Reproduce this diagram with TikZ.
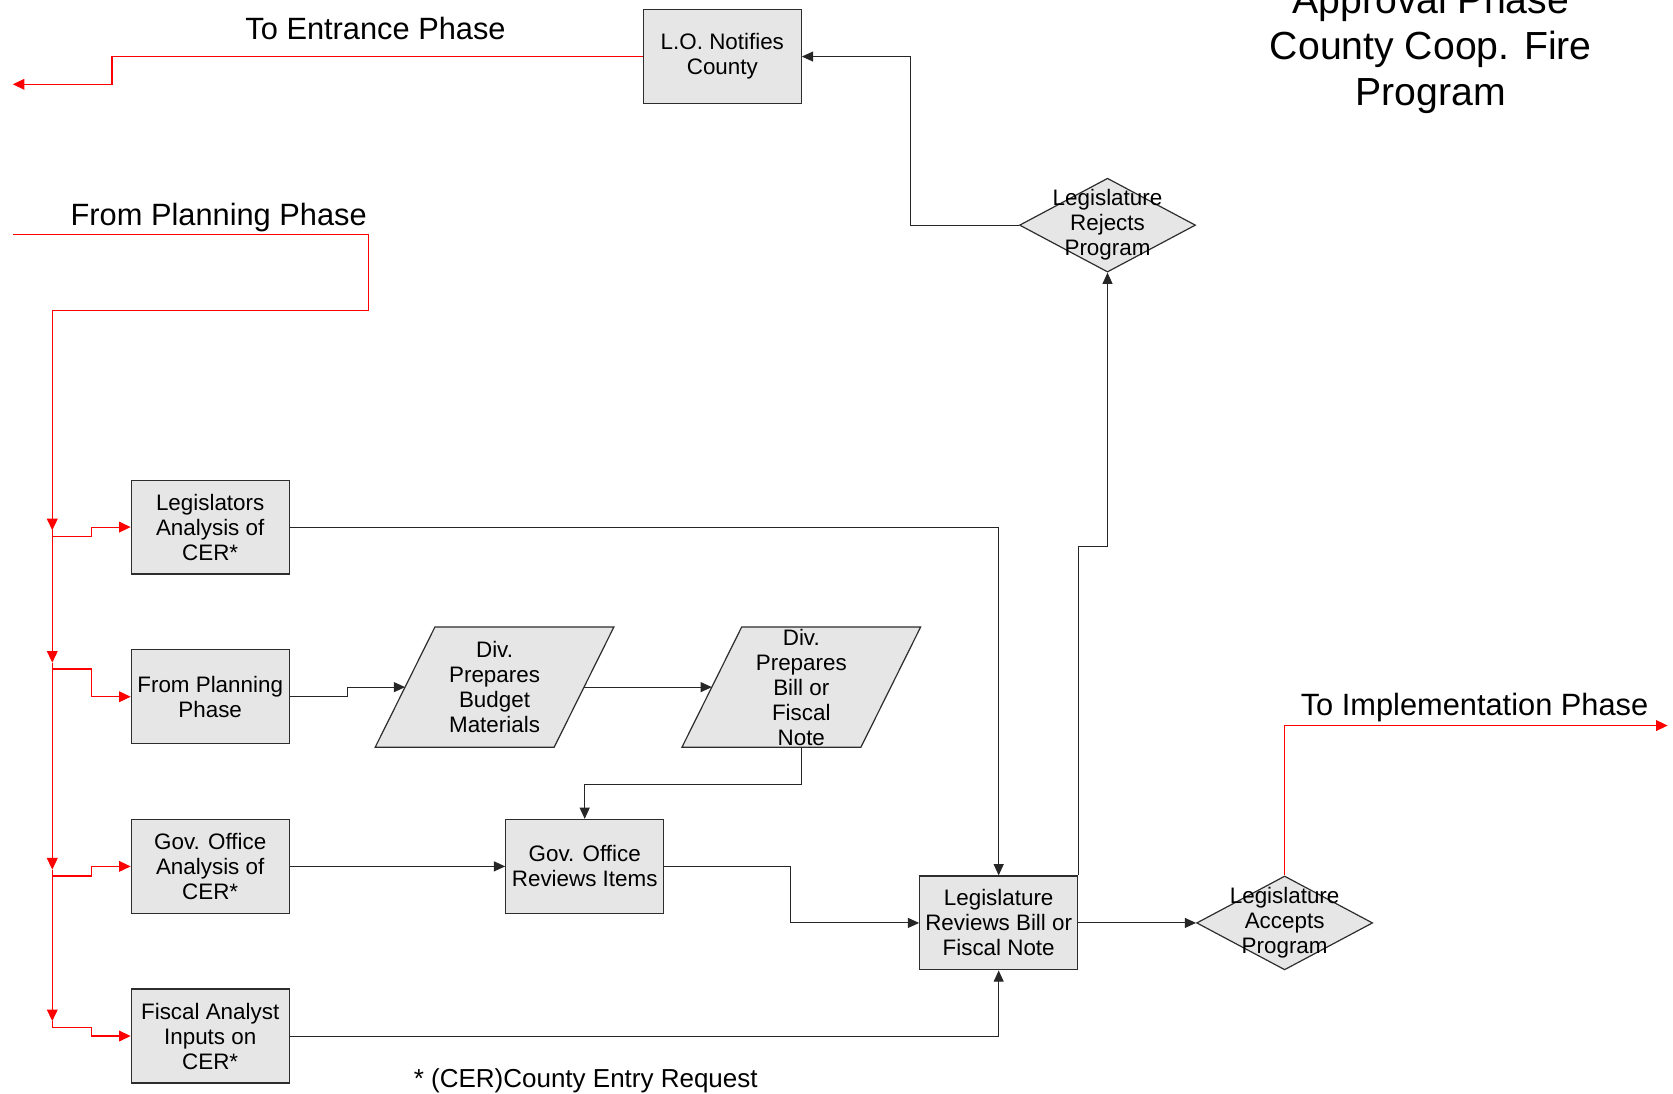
\documentclass[tikz,border=0pt]{standalone}
\usepackage{fontspec}
\setmainfont{Liberation Sans}
\usetikzlibrary{shapes.geometric,arrows.meta}
\definecolor{boxgray}{RGB}{230,230,230}
\definecolor{edgegray}{RGB}{45,45,45}
\newcommand\flowfont{\fontsize{11.2pt}{12.5pt}\selectfont}
\newcommand\phasefont{\fontsize{15.4pt}{18pt}\selectfont}
\newcommand\titlefont{\fontsize{19.6pt}{22.9pt}\selectfont}
\newcommand\notefont{\fontsize{13pt}{15pt}\selectfont}

\begin{document}
\begin{tikzpicture}[x=0.5336pt,y=-0.5336pt,
  procbox/.style={draw=edgegray, line width=0.6pt, fill=boxgray,
    minimum width=78.97pt, minimum height=46.96pt, inner sep=0pt,
    align=center, font=\flowfont},
  % body of a slanted data shape; the slanted outline is drawn round it
  iobody/.style={rectangle, minimum width=89.1pt, minimum height=59.76pt, inner sep=0pt},
  ioshape/.style={draw=edgegray, line width=0.6pt, fill=boxgray},
  decbox/.style={diamond, draw=edgegray, line width=0.6pt, fill=boxgray,
    minimum width=88.04pt, minimum height=46.96pt, inner sep=0pt},
  flowtext/.style={align=center, font=\flowfont, inner sep=0pt},
  phase/.style={align=center, font=\phasefont, inner sep=0pt},
  arr/.style={draw=black!85, line width=0.5pt, -{Triangle[length=5.6pt,width=5pt]}},
  rline/.style={draw=red, line width=0.55pt},
  rarr/.style={rline, -{Triangle[length=5.8pt,width=5.4pt]}}
]
\useasboundingbox (0,0) rectangle (1568,1025);

% title and phase labels
\node[align=center, font=\titlefont, inner sep=0pt] (title) at (1341,46)
  {Approval Phase\\County Coop. Fire\\Program};
\node[phase] (toEntrance) at (352,27) {To Entrance Phase};
\node[phase] (fromPlanning) at (205,204) {From Planning Phase};
\node[phase] (toImpl) at (1382,663) {To Implementation Phase};
\node[font=\notefont, inner sep=0pt] (note) at (549,1013) {* (CER)County Entry Request};

% process boxes
\node[procbox] (LO) at (677,53) {L.O. Notifies\\County};
\node[procbox] (LA) at (197,494) {Legislators\\Analysis of\\CER*};
\node[procbox] (FP) at (197,653) {From Planning\\Phase};
\node[procbox] (GA) at (197,812) {Gov. Office\\Analysis of\\CER*};
\node[procbox] (FA) at (197,971) {Fiscal Analyst\\Inputs on\\CER*};
\node[procbox] (GR) at (548,812) {Gov. Office\\Reviews Items};
\node[procbox] (LR) at (936,865) {Legislature\\Reviews Bill or\\Fiscal Note};

% data shapes (parallelograms leaning right)
\node[iobody] (DB) at (463.5,644) {};
\path[ioshape] ([xshift=-14.94pt]DB.south west) -- ([xshift=-14.94pt]DB.south east)
  -- ([xshift=14.94pt]DB.north east) -- ([xshift=14.94pt]DB.north west) -- cycle;
\node[flowtext] (DBt) at (DB.center) {Div.\\Prepares\\Budget\\Materials};
\node[iobody] (DN) at (751,644) {};
\path[ioshape] ([xshift=-14.94pt]DN.south west) -- ([xshift=-14.94pt]DN.south east)
  -- ([xshift=14.94pt]DN.north east) -- ([xshift=14.94pt]DN.north west) -- cycle;
\node[flowtext] (DNt) at (DN.center) {Div.\\Prepares\\Bill or\\Fiscal\\Note};

% decisions
\node[decbox] (RJ) at (1038,211) {};
\node[flowtext] (RJt) at (RJ.center) {Legislature\\Rejects\\Program};
\node[decbox] (AC) at (1204,865) {};
\node[flowtext] (ACt) at (AC.center) {Legislature\\Accepts\\Program};

% bend points
\coordinate (k1) at (326,653);
\coordinate (k2) at (751,735);
\coordinate (k3) at (741,812);
\coordinate (k4) at (853,211);
\coordinate (k5) at (105,79);
\coordinate (ent) at (12,79);
\coordinate (impl) at (1563,680);
\coordinate (jR) at (1038,512);
\coordinate (fpin) at (12,220);
\coordinate (k6) at (345,291);
\coordinate (tr0) at (49,291);
\coordinate (t1) at (49,497);
\coordinate (t2) at (49,621);
\coordinate (t3) at (49,815);
\coordinate (t4) at (49,957);
\coordinate (b1) at (86,503);
\coordinate (b2) at (86,627);
\coordinate (b3) at (86,821);
\coordinate (b4) at (86,963);

% black connectors
\draw[arr] (LA.east) -| (LR.north);
\draw[arr] (FA.east) -| (LR.south);
\draw[arr] (FP.east) -- (k1) |- (DB.west);
\draw[arr] (DB.east) -- (DN.west);
\draw[arr] (DN.south) -- (k2) -| (GR.north);
\draw[arr] (GA.east) -- (GR.west);
\draw[arr] (GR.east) -- (k3) |- (LR.west);
\draw[arr] (LR.east) -- (AC.west);
\draw[arr] (LR.north east) |- (jR) -- (RJ.south);
\draw[arr] (RJ.west) -- (k4) |- (LO.east);

% red phase links
\draw[rarr] (LO.west) -| (k5) -- (ent);
\draw[rarr] (AC.north) |- (impl);
\draw[rline] (fpin) -| (k6) -- (tr0);
\draw[rarr] (tr0) -- (t1);
\draw[rarr] (t1) -- (t2);
\draw[rarr] (t2) -- (t3);
\draw[rarr] (t3) -- (t4);
\draw[rarr] (t1) |- (b1) |- (LA.west);
\draw[rarr] (t2) |- (b2) |- (FP.west);
\draw[rarr] (t3) |- (b3) |- (GA.west);
\draw[rarr] (t4) |- (b4) |- (FA.west);
\end{tikzpicture}
\end{document}
